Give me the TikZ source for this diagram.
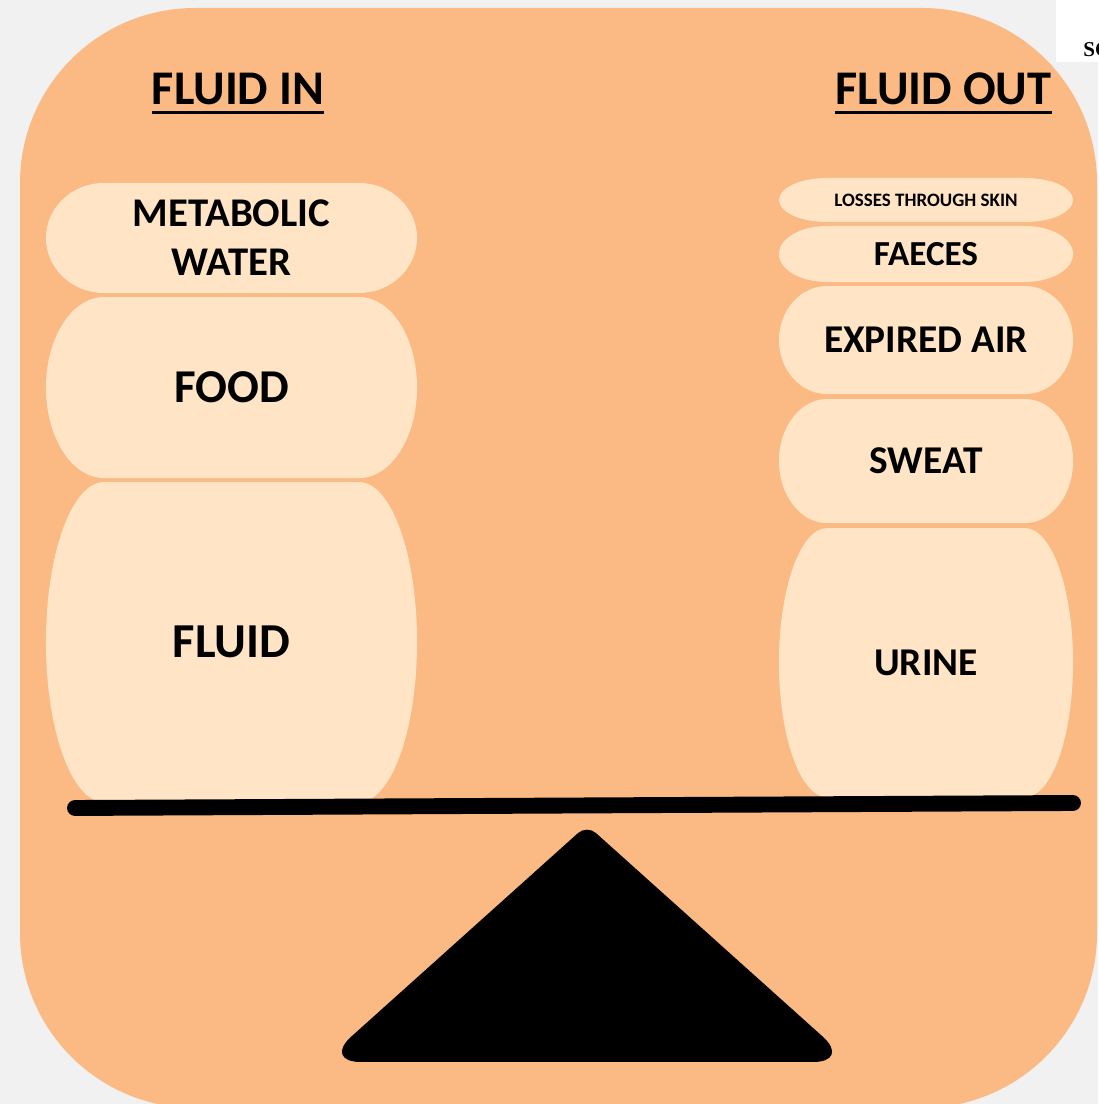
\documentclass[tikz,border=0pt]{standalone}
\usepackage{fontspec}
\setmainfont{Carlito}
\newfontfamily\sourcefont{Liberation Serif}
\usepackage{xcolor}
\usetikzlibrary{positioning, calc}

\definecolor{paper}{RGB}{241,241,241}
\definecolor{panel}{RGB}{251,185,132}
\definecolor{cream}{RGB}{255,229,198}

\begin{document}
\begin{tikzpicture}[
  x=0.025cm, y=0.025cm,
  heading/.style={anchor=base, inner sep=0pt, font=\bfseries\fontsize{34.4}{40}\selectfont},
  rule/.style={line width=2.1pt},
  pill/.style={
    rectangle, inner sep=0pt, outer sep=0pt, align=center, font=\bfseries,
    path picture={
      \fill[cream] let \p1=(path picture bounding box.south west),
        \p2=(path picture bounding box.north east) in
        (\x1+#1,\y1) -- (\x2-#1,\y1)
        arc[start angle=-90, end angle=90, x radius=#1, y radius={(\y2-\y1)/2}]
        -- (\x1+#1,\y2)
        arc[start angle=90, end angle=270, x radius=#1, y radius={(\y2-\y1)/2}]
        -- cycle;
    }
  },
  pill/.default=1.45cm,
  inbox/.style={pill=1.45cm, minimum width=9.275cm},
  outbox/.style={pill=1.2cm, minimum width=7.35cm},
  bigtext/.style={font=\bfseries\fontsize{33.5}{40}\selectfont},
  midtext/.style={font=\bfseries\fontsize{28}{34.7}\selectfont},
  smalltext/.style={font=\bfseries\fontsize{25}{30}\selectfont},
  tinytext/.style={font=\bfseries\fontsize{13.5}{16}\selectfont},
  beam/.style={line width=11.3pt, line cap=round},
  node distance=0.1cm
]
\useasboundingbox (0,0) rectangle (1098,1104);

% ==================== BACKGROUND ====================
\fill[paper] (0,0) rectangle (1098,1104);
\fill[panel, rounded corners=4.375cm] (20,-4) rectangle (1097,1096);

% source tag, cut at the page edge
\fill[white] (1056,1042) rectangle (1098,1104);
\begin{scope}
  \clip (1056,1042) rectangle (1098,1104);
  \node[anchor=base west, inner sep=0pt, font=\sourcefont\bfseries\fontsize{15}{18}\selectfont] (src) at (1083,1047) {SC};
\end{scope}

% ==================== HEADINGS ====================
\node[heading] (fin) at (238,999) {FLUID IN};
\node[heading] (fout) at (943.5,999) {FLUID OUT};
\draw[rule] ([yshift=-0.18cm]fin.base west) -- ([yshift=-0.18cm]fin.base east);
\draw[rule] ([yshift=-0.18cm]fout.base west) -- ([yshift=-0.18cm]fout.base east);

% ==================== FLUID IN ====================
\node[inbox, font=\bfseries\fontsize{29}{34.7}\selectfont, minimum height=2.75cm] (metab) at (231.5,866) {METABOLIC\\WATER};
\node[inbox, bigtext, minimum height=4.525cm, below=of metab] (food) {FOOD};
\node[inbox, bigtext, font=\bfseries\fontsize{34.7}{40}\selectfont, minimum height=8cm, below=of food] (fluid) {FLUID};

% ==================== FLUID OUT ====================
\node[outbox, tinytext, minimum height=1.1cm] (skin) at (926,904) {LOSSES THROUGH SKIN};
\node[outbox, smalltext, minimum height=1.4cm, below=of skin] (faeces) {FAECES};
\node[outbox, midtext, minimum height=2.7cm, below=of faeces] (expired) {EXPIRED AIR};
\node[outbox, midtext, minimum height=3.1cm, below=0.125cm of expired] (sweat) {SWEAT};
\node[outbox, midtext, minimum height=6.725cm, below=0.125cm of sweat] (urine) {URINE};

% ==================== BALANCE ====================
\coordinate (beamL) at (75,296);
\coordinate (beamR) at (1073,301);
\draw[beam] (beamL) -- (beamR);

% fulcrum: blunt base tips, small round on top
\coordinate (pivot) at (587,279);
\fill (587,42) [rounded corners=0.95cm] -- (851,42) [rounded corners=0.3cm] -- (pivot)
  [rounded corners=0.95cm] -- (323,42) -- cycle;

\end{tikzpicture}
\end{document}
